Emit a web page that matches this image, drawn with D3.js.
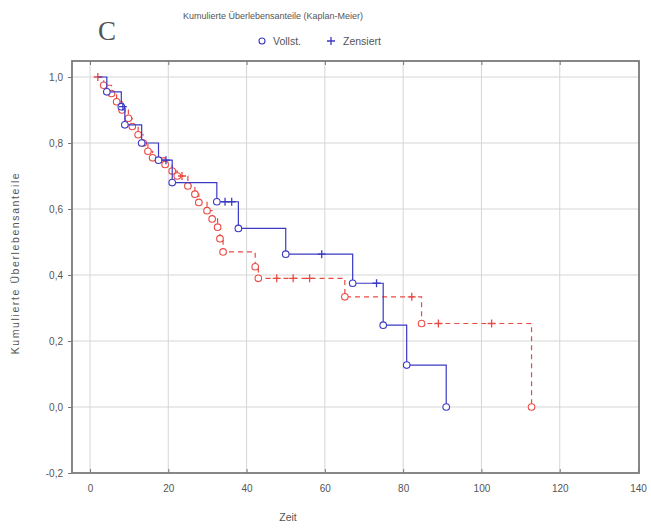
<!DOCTYPE html>
<html>
<head>
<meta charset="utf-8">
<script src="https://cdn.jsdelivr.net/npm/d3@7"></script>
<style>
  body { margin: 0; background: #fff; }
  text { font-family: "Liberation Sans", Arial, sans-serif; fill: #555; }
</style>
</head>
<body>
<div id="chart"></div>
<script>
// Kaplan-Meier curves, values
const xTicks = [0, 20, 40, 60, 80, 100, 120, 140];
const yTicks = [-0.2, 0, 0.2, 0.4, 0.6, 0.8, 1.0];

// group 1 (blue, solid line)
const blueStartT = 2, blueStartS = 1.0;
const blueEventT = [4.3, 8.0, 8.9, 13.2, 17.5, 21.0, 32.4, 37.9, 50.0, 67.1, 74.9, 80.9, 91.0];
const blueEventS = [0.955, 0.91, 0.855, 0.80, 0.748, 0.68, 0.622, 0.541, 0.463, 0.375, 0.248, 0.127, 0.0];
const blueCensT = [8.4, 19.4, 34.5, 36.2, 59.2, 73.2];
const blueCensS = [0.91, 0.748, 0.622, 0.622, 0.463, 0.375];

// group 2 (red, dashed line)
const redStartT = 2, redStartS = 1.0;
const redEventT = [3.5, 5.5, 6.8, 8.2, 9.8, 10.8, 12.3, 13.6, 14.8, 16.0, 19.2, 21.0, 22.3, 25.0, 26.8, 27.8, 29.9, 31.2, 32.6, 33.2, 34.0, 42.2, 43.0, 65.1, 84.7, 112.8];
const redEventS = [0.975, 0.95, 0.925, 0.9, 0.875, 0.85, 0.825, 0.8, 0.775, 0.755, 0.735, 0.715, 0.7, 0.67, 0.645, 0.62, 0.595, 0.57, 0.545, 0.51, 0.47, 0.425, 0.39, 0.334, 0.253, 0.0];
const redCensT = [2.0, 23.5, 47.7, 51.9, 56.1, 82.2, 89.0, 102.6];
const redCensS = [1.0, 0.70, 0.39, 0.39, 0.39, 0.334, 0.253, 0.253];

const width = 651, height = 528;
const plot = { left: 72, right: 639, top: 61, bottom: 473 };
const blue = "#3a3ac4", red = "#ea4a44";

const svg = d3.select("#chart")
  .append("svg")
  .attr("width", width)
  .attr("height", height);

const xScale = d3.scaleLinear()
  .domain([-4.6, 140.25])
  .range([plot.left, plot.right]);

const yScale = d3.scaleLinear()
  .domain([-0.2, 1.0485])
  .range([plot.bottom, plot.top]);

const fmt = v => d3.format(".1f")(v).replace("−", "-").replace(".", ",");

// grid
svg.append("g")
  .selectAll("line")
  .data(xTicks.filter(d => d < 140))
  .enter()
  .append("line")
    .attr("x1", d => xScale(d)).attr("x2", d => xScale(d))
    .attr("y1", plot.top).attr("y2", plot.bottom)
    .attr("stroke", "#d6d6d6");

svg.append("g")
  .selectAll("line")
  .data(yTicks.filter(d => d > -0.2))
  .enter()
  .append("line")
    .attr("x1", plot.left).attr("x2", plot.right)
    .attr("y1", d => yScale(d)).attr("y2", d => yScale(d))
    .attr("stroke", "#d6d6d6");

// axes
svg.append("g")
  .attr("transform", `translate(${plot.left},0)`)
  .call(d3.axisLeft(yScale).tickValues(yTicks).tickFormat(fmt).tickSize(4).tickPadding(5))
  .call(g => g.select(".domain").remove())
  .call(g => g.selectAll("line").attr("stroke", "#777"))
  .attr("font-size", "10px");

svg.append("g")
  .attr("transform", `translate(0,${plot.bottom})`)
  .call(d3.axisBottom(xScale).tickValues(xTicks).tickSize(-4).tickPadding(12))
  .call(g => g.select(".domain").remove())
  .call(g => g.selectAll("line").attr("stroke", "#777"))
  .attr("font-size", "10px");

svg.append("g")
  .attr("transform", `translate(0,${plot.top})`)
  .call(d3.axisTop(xScale).tickValues(xTicks).tickSize(-4).tickFormat(""))
  .call(g => g.select(".domain").remove())
  .call(g => g.selectAll("line").attr("stroke", "#777"));

svg.selectAll("text").attr("fill", "#555").style("font-family", "'Liberation Sans', Arial, sans-serif");

// frame
svg.append("rect")
  .attr("x", plot.left).attr("y", plot.top)
  .attr("width", plot.right - plot.left).attr("height", plot.bottom - plot.top)
  .attr("fill", "none").attr("stroke", "#7a7a7a").attr("stroke-width", 1.8);

// curves
const stepLine = d3.line()
  .x(d => xScale(d[0]))
  .y(d => yScale(d[1]))
  .curve(d3.curveStepAfter);

function drawGroup(startT, startS, evT, evS, cT, cS, color, dash) {
  const pts = [[startT, startS]].concat(evT.map((t, i) => [t, evS[i]]));
  svg.append("path")
    .datum(pts)
    .attr("d", stepLine)
    .attr("fill", "none")
    .attr("stroke", color)
    .attr("stroke-width", 1.2)
    .attr("stroke-dasharray", dash);

  svg.append("g")
    .selectAll("circle")
    .data(evT.map((t, i) => [t, evS[i]]))
    .enter()
    .append("circle")
      .attr("cx", d => xScale(d[0]))
      .attr("cy", d => yScale(d[1]))
      .attr("r", 3.3)
      .attr("fill", "white")
      .attr("stroke", color)
      .attr("stroke-width", 1.1);

  svg.append("g")
    .selectAll("path")
    .data(cT.map((t, i) => [t, cS[i]]))
    .enter()
    .append("path")
      .attr("d", d => {
        const x = xScale(d[0]), y = yScale(d[1]);
        return `M${x - 4},${y}H${x + 4}M${x},${y - 4}V${y + 4}`;
      })
      .attr("stroke", color)
      .attr("stroke-width", 1.3);
}

drawGroup(redStartT, redStartS, redEventT, redEventS, redCensT, redCensS, red, "5,4");
drawGroup(blueStartT, blueStartS, blueEventT, blueEventS, blueCensT, blueCensS, blue, null);

// titles
svg.append("text")
  .attr("x", 273).attr("y", 19)
  .attr("text-anchor", "middle")
  .attr("font-size", "9px")
  .text("Kumulierte Überlebensanteile (Kaplan-Meier)");

svg.append("circle")
  .attr("cx", 262).attr("cy", 41).attr("r", 3)
  .attr("fill", "white").attr("stroke", blue).attr("stroke-width", 1.1);
svg.append("text")
  .attr("x", 273).attr("y", 45)
  .attr("font-size", "10.5px")
  .text("Vollst.");
svg.append("path")
  .attr("d", "M327,41H335M331,37V45")
  .attr("stroke", blue).attr("stroke-width", 1.3);
svg.append("text")
  .attr("x", 343).attr("y", 45)
  .attr("font-size", "10.5px")
  .text("Zensiert");

svg.append("text")
  .attr("x", 98).attr("y", 40)
  .style("font-family", "'Liberation Serif', 'Times New Roman', serif")
  .attr("font-size", "27px")
  .attr("fill", "#111")
  .text("C");

svg.append("text")
  .attr("transform", `translate(19,263) rotate(-90)`)
  .attr("text-anchor", "middle")
  .attr("font-size", "10.5px")
  .attr("letter-spacing", "1.6px")
  .text("Kumulierte Überlebensanteile");

svg.append("text")
  .attr("x", 288).attr("y", 521)
  .attr("text-anchor", "middle")
  .attr("font-size", "10.5px")
  .text("Zeit");
</script>
</body>
</html>
